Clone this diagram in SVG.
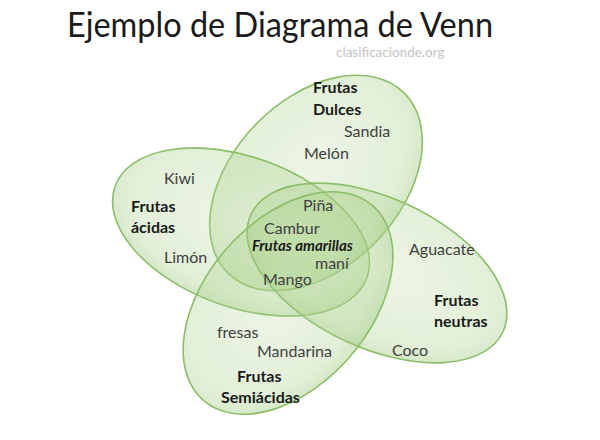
<svg xmlns="http://www.w3.org/2000/svg" width="600" height="440" viewBox="0 0 600 440">
<defs>
<radialGradient id="g" cx="0.5" cy="0.45" r="0.55">
<stop offset="0" stop-color="#b4d796" stop-opacity="0.24"/>
<stop offset="0.8" stop-color="#a8cf88" stop-opacity="0.32"/>
<stop offset="1" stop-color="#9cc87a" stop-opacity="0.42"/>
</radialGradient>
</defs>
<style>
.set{fill:url(#g);stroke:#8cbd69;stroke-width:1.6}
text{font-family:Lato,"Open Sans","Liberation Sans",sans-serif;font-size:16px}
.t{fill:#404040}
.b{fill:#1a1a1a;font-weight:bold}
</style>
<rect width="600" height="440" fill="#ffffff"/>
<text x="67" y="37" style="font-size:34px;fill:#1a1a1a" textLength="426" lengthAdjust="spacingAndGlyphs">Ejemplo de Diagrama de Venn</text>
<text x="336" y="57" style="font-size:13.5px;fill:#c4c4c4">clasificacionde.org</text>
<g id="dulces">
<ellipse class="set" cx="316" cy="183" rx="126" ry="84" transform="rotate(-46 316 183)"/>
</g>
<g id="acidas">
<ellipse class="set" cx="241" cy="232" rx="134" ry="75" transform="rotate(20 241 232)"/>
</g>
<g id="neutras">
<ellipse class="set" cx="377" cy="273" rx="139" ry="75" transform="rotate(25 377 273)"/>
</g>
<g id="semiacidas">
<ellipse class="set" cx="288" cy="303" rx="129" ry="82" transform="rotate(-49 288 303)"/>
</g>
<g id="dulces-labels">
<text class="b" x="313" y="93">Frutas</text>
<text class="b" x="313" y="115">Dulces</text>
<text class="t" x="344" y="137">Sandia</text>
<text class="t" x="304" y="159">Melón</text>
</g>
<g id="acidas-labels">
<text class="t" x="164" y="184">Kiwi</text>
<text class="b" x="131" y="212">Frutas</text>
<text class="b" x="131" y="233">ácidas</text>
<text class="t" x="164" y="263">Limón</text>
</g>
<g id="amarillas">
<text class="t" x="303" y="211">Piña</text>
<text class="t" x="264" y="234">Cambur</text>
<text class="b" x="252" y="251" style="font-style:italic;font-size:15px">Frutas amarillas</text>
<text class="t" x="315" y="269">maní</text>
<text class="t" x="263" y="285">Mango</text>
</g>
<g id="neutras-labels">
<text class="t" x="409" y="255">Aguacate</text>
<text class="b" x="434" y="306">Frutas</text>
<text class="b" x="434" y="327">neutras</text>
<text class="t" x="392" y="356">Coco</text>
</g>
<g id="semiacidas-labels">
<text class="t" x="217" y="338">fresas</text>
<text class="t" x="257" y="357">Mandarina</text>
<text class="b" x="237" y="382">Frutas</text>
<text class="b" x="221" y="403">Semiácidas</text>
</g>
</svg>
